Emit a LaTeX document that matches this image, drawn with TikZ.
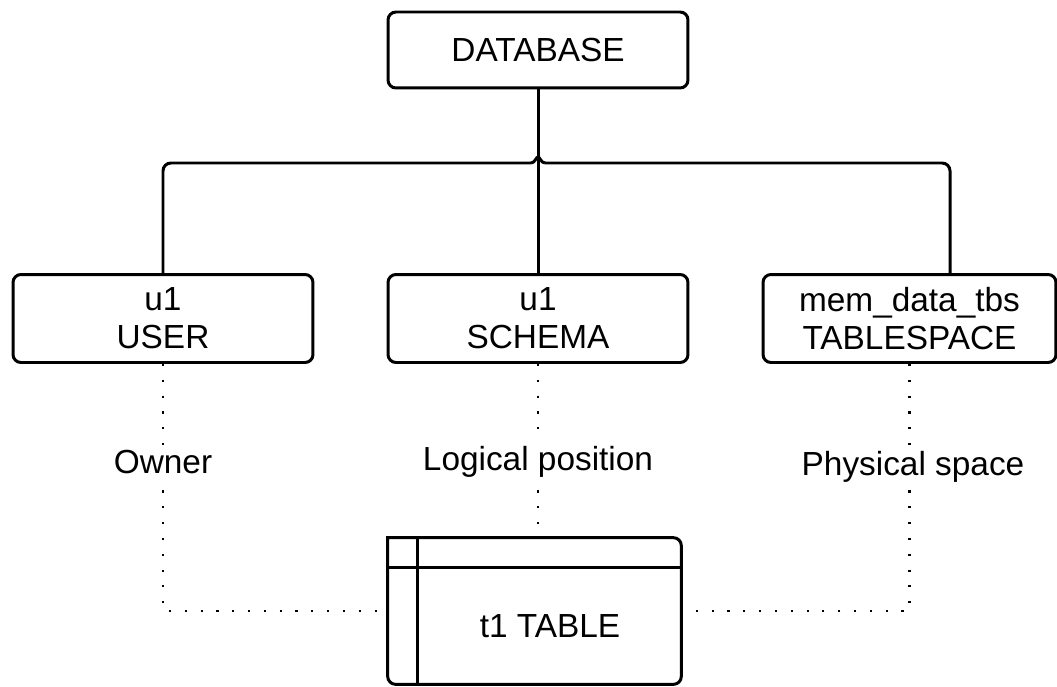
\documentclass[tikz,border=0pt]{standalone}
\usepackage{fontspec}
\setmainfont{Liberation Sans}
\begin{document}
\begin{tikzpicture}[x=0.02cm,y=-0.02cm,
  every node/.style={font=\fontsize{19}{21.5}\selectfont},
  box/.style={draw,line width=1.7pt,rounded corners=4.5pt,inner sep=0pt,align=center,minimum width=6cm,minimum height=1.76cm},
  link/.style={line width=1.7pt},
  dotline/.style={line width=1.2pt,dash pattern=on 1.2pt off 7.8pt},
  lbl/.style={fill=white,inner sep=3pt}]
\useasboundingbox (0,0) rectangle (1057,686);
% boxes
\node[box,minimum height=1.52cm] (db) at (538,50) {DATABASE};
\node[box] (user) at (163,318.5) {u1\\USER};
\node[box] (schema) at (538,318.5) {u1\\SCHEMA};
\node[box,minimum width=5.86cm] (tbs) at (909.5,318.5) {mem\_data\_tbs\\TABLESPACE};
% table
\node[inner sep=0pt,minimum width=5.86cm,minimum height=2.92cm] (tbl) at (534.5,611) {};
\draw[link,line cap=rect] (tbl.north west) [rounded corners=4.5pt] -- (tbl.north east) -- (tbl.south east) -- (tbl.south west) -- (tbl.north west);
\draw[link] ([yshift=-0.6cm]tbl.north west) -- ([yshift=-0.6cm]tbl.north east);
\draw[link] ([xshift=0.6cm]tbl.north west) -- ([xshift=0.6cm]tbl.south west);
\node (tbltxt) at (550,626) {t1 TABLE};
% tree
\coordinate (hopl) at (531,163);
\coordinate (hopr) at (545,163);
\coordinate (tbsin) at ([xshift=0.81cm]tbs.north);
\draw[link] (db) -- (schema);
\draw[link,rounded corners=4.5pt] (user.north) |- (hopl);
\draw[link] (hopl) .. controls (535,163) and (536,157) .. (538,157) .. controls (540,157) and (541,163) .. (hopr);
\draw[link,rounded corners=4.5pt] (hopr) -| (tbsin);
% relations
\draw[dotline] (user.south) |- (tbl.west);
\draw[dotline] (schema.south) -- (schema.south |- tbl.north);
\draw[dotline] (tbs.south) |- (tbl.east);
\node[lbl] (own) at (163,462) {Owner};
\node[lbl] (logic) at (538,462) {Logical position};
\node[lbl] (phys) at (913,467) {Physical space};
\end{tikzpicture}
\end{document}
